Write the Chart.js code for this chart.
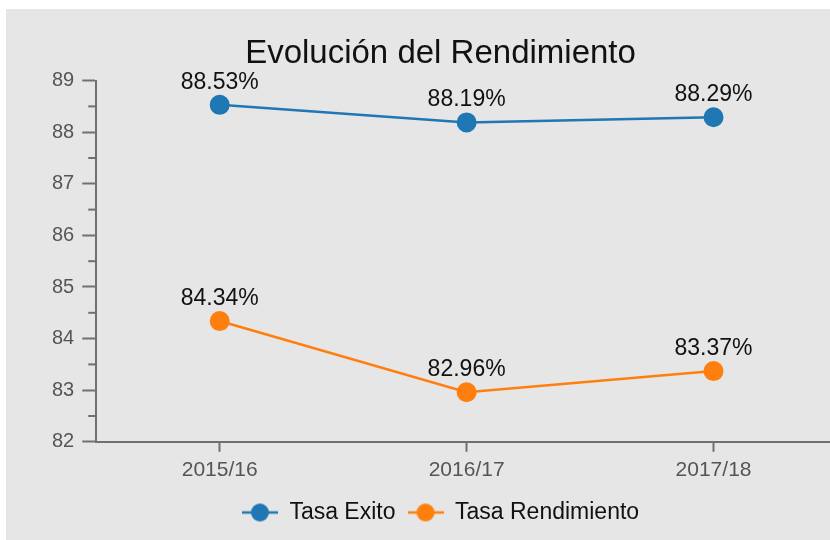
<!DOCTYPE html>
<html lang="es">

<head>
    <meta charset="UTF-8">
    <title>Evolución del Rendimiento</title>
    <script src="https://cdn.jsdelivr.net/npm/chart.js"></script>
    <style>
        html, body { margin: 0; padding: 0; background: #fff; overflow: hidden; }
        #wrap { position: absolute; left: 6px; top: 9px; width: 858px; height: 531px; background: #e6e6e6; }
    </style>
</head>

<body>
    <div id="wrap"><canvas id="chartCanvas"></canvas></div>

    <script>
        // data
        const cursos = ['2015/16', '2016/17', '2017/18'];
        const tasaExito = [88.53, 88.19, 88.29];
        const tasaRendimiento = [84.34, 82.96, 83.37];
        const yMin = 82;
        const yMax = 89;

        const azul = '#1f77b4';
        const naranja = '#ff7f0e';
        const fuente = "'Liberation Sans', Arial, Helvetica, sans-serif";

        // legend icon: a short line with a dot on it
        function iconoLeyenda(color) {
            const c = document.createElement('canvas');
            c.width = 36;
            c.height = 20;
            const g = c.getContext('2d');
            g.strokeStyle = color;
            g.lineWidth = 2.5;
            g.beginPath();
            g.moveTo(0, 10);
            g.lineTo(36, 10);
            g.stroke();
            g.fillStyle = color;
            g.beginPath();
            g.arc(18, 10, 9, 0, Math.PI * 2);
            g.fill();
            return c;
        }

        // percentage labels above every point
        const etiquetas = {
            id: 'etiquetas',
            afterDatasetsDraw(chart) {
                const ctx = chart.ctx;
                ctx.save();
                ctx.font = '23px ' + fuente;
                ctx.fillStyle = '#111';
                ctx.textAlign = 'center';
                ctx.textBaseline = 'alphabetic';
                chart.data.datasets.forEach((ds, i) => {
                    chart.getDatasetMeta(i).data.forEach((pt, j) => {
                        ctx.fillText(ds.data[j].toFixed(2) + '%', pt.x, pt.y - 16);
                    });
                });
                ctx.restore();
            }
        };

        // shorter minor ticks on the y axis
        const ticksMenores = {
            id: 'ticksMenores',
            afterDraw(chart) {
                const y = chart.scales.y;
                const ctx = chart.ctx;
                ctx.save();
                ctx.strokeStyle = '#707070';
                ctx.lineWidth = 2;
                for (let v = yMin + 0.5; v < yMax; v += 1) {
                    const py = y.getPixelForValue(v);
                    ctx.beginPath();
                    ctx.moveTo(y.right - 8, py);
                    ctx.lineTo(y.right, py);
                    ctx.stroke();
                }
                ctx.restore();
            }
        };

        const ctx = document.getElementById('chartCanvas').getContext('2d');
        new Chart(ctx, {
            type: 'line',
            data: {
                labels: cursos,
                datasets: [{
                    label: 'Tasa Exito',
                    data: tasaExito,
                    borderColor: azul,
                    backgroundColor: azul,
                    borderWidth: 2.5,
                    pointRadius: 9,
                    pointBorderWidth: 2,
                    pointHoverRadius: 9
                }, {
                    label: 'Tasa Rendimiento',
                    data: tasaRendimiento,
                    borderColor: naranja,
                    backgroundColor: naranja,
                    borderWidth: 2.5,
                    pointRadius: 9,
                    pointBorderWidth: 2,
                    pointHoverRadius: 9
                }]
            },
            options: {
                responsive: true,
                maintainAspectRatio: false,
                animation: false,
                layout: {
                    padding: { left: 38, right: 27, top: 0, bottom: 6 }
                },
                plugins: {
                    title: {
                        display: true,
                        text: 'Evolución del Rendimiento',
                        color: '#111',
                        font: { family: fuente, size: 33, weight: 'normal' },
                        padding: { top: 25, bottom: 7 }
                    },
                    legend: {
                        position: 'bottom',
                        labels: {
                            color: '#111',
                            font: { family: fuente, size: 23 },
                            usePointStyle: true,
                            pointStyleWidth: 36,
                            padding: 12,
                            generateLabels(chart) {
                                return chart.data.datasets.map((ds, i) => ({
                                    text: ds.label,
                                    pointStyle: iconoLeyenda(ds.borderColor),
                                    fillStyle: ds.borderColor,
                                    strokeStyle: ds.borderColor,
                                    lineWidth: 0,
                                    fontColor: '#111',
                                    datasetIndex: i
                                }));
                            }
                        }
                    },
                    tooltip: { enabled: false }
                },
                scales: {
                    x: {
                        offset: true,
                        grid: {
                            offset: false,
                            drawOnChartArea: false,
                            tickLength: 10,
                            tickColor: '#707070',
                            tickWidth: 2
                        },
                        border: { color: '#707070', width: 2 },
                        ticks: {
                            color: '#555',
                            font: { family: fuente, size: 21 },
                            padding: 6
                        }
                    },
                    y: {
                        min: yMin,
                        max: yMax,
                        grid: {
                            drawOnChartArea: false,
                            tickLength: 14,
                            tickWidth: 2,
                            tickColor: '#707070'
                        },
                        border: { color: '#707070', width: 2 },
                        ticks: {
                            stepSize: 1,
                            color: '#555',
                            font: { family: fuente, size: 20 },
                            padding: 8
                        }
                    }
                }
            },
            plugins: [etiquetas, ticksMenores]
        });
    </script>

</body>

</html>
